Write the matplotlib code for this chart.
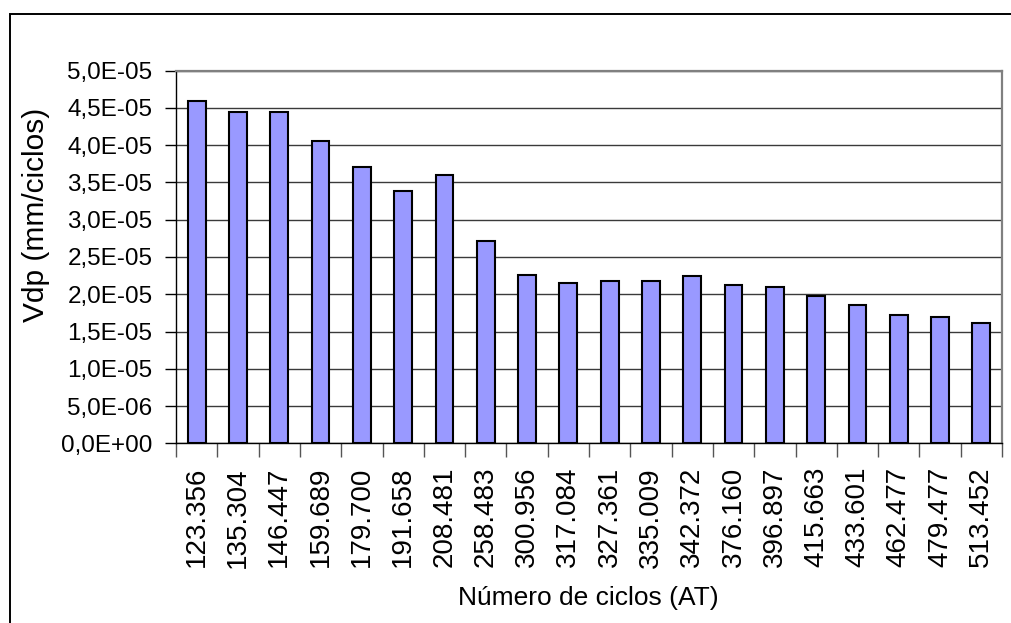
import matplotlib
matplotlib.use('Agg')
import matplotlib.pyplot as plt
from matplotlib.patches import Rectangle
from matplotlib.ticker import FuncFormatter, MultipleLocator

plt.rcParams['font.family'] = ['Liberation Sans', 'DejaVu Sans']

ciclos = ['123.356', '135.304', '146.447', '159.689', '179.700', '191.658',
          '208.481', '258.483', '300.956', '317.084', '327.361', '335.009',
          '342.372', '376.160', '396.897', '415.663', '433.601', '462.477',
          '479.477', '513.452']
vdp = [4.60e-05, 4.44e-05, 4.44e-05, 4.06e-05, 3.71e-05, 3.39e-05,
       3.60e-05, 2.72e-05, 2.26e-05, 2.15e-05, 2.18e-05, 2.18e-05,
       2.24e-05, 2.12e-05, 2.10e-05, 1.97e-05, 1.86e-05, 1.72e-05,
       1.70e-05, 1.61e-05]


def sci_comma(v, pos):
    return '{:.1E}'.format(v).replace('.', ',')


def create_plot():
    fig = plt.figure(figsize=(10.11, 6.23), dpi=100)
    W, H = 1011, 623

    # outer chart frame
    fig.patches.append(Rectangle((10 / W, -0.1), 1.2, 1 - 14 / H + 0.1,
                                 transform=fig.transFigure, fill=False,
                                 edgecolor='black', linewidth=1.4))

    ax = fig.add_axes([176 / W, 1 - 443.3 / H, (1002 - 176) / W, (443.3 - 70.7) / H])
    x = list(range(len(ciclos)))
    ax.bar(x, vdp, width=0.43, color='#9999FF', edgecolor='black',
           linewidth=1.5, zorder=3)

    ax.set_xlim(-0.5, len(ciclos) - 0.5)
    ax.set_ylim(0, 5e-05)
    ax.yaxis.set_major_locator(MultipleLocator(5e-06))
    ax.yaxis.set_major_formatter(FuncFormatter(sci_comma))
    ax.grid(axis='y', color='#3a3a3a', linewidth=1.0, zorder=0)

    # labels centred on bars, tick marks between categories
    ax.set_xticks(x)
    ax.set_xticklabels(ciclos, rotation=90, fontsize=20)
    ax.tick_params(axis='x', which='major', length=0, pad=17)
    ax.set_xticks([i - 0.5 for i in range(len(ciclos) + 1)], minor=True)
    ax.tick_params(axis='x', which='minor', length=10, width=1.0, color='#555555')
    ax.tick_params(axis='y', length=8, width=1.0, pad=9, labelsize=17.5)

    for side in ['top', 'right']:
        ax.spines[side].set_color('#808080')
        ax.spines[side].set_linewidth(1.6)
    for side in ['left', 'bottom']:
        ax.spines[side].set_color('black')
        ax.spines[side].set_linewidth(1.0)

    fig.text(36 / W, 1 - 215 / H, 'Vdp (mm/ciclos)', rotation=90,
             fontsize=21.5, ha='center', va='center')
    fig.text(588 / W, 1 - 598 / H, 'Número de ciclos (AT)',
             fontsize=19, ha='center', va='center')

    fig.savefig('out.png', dpi=100)


if __name__ == '__main__':
    create_plot()
